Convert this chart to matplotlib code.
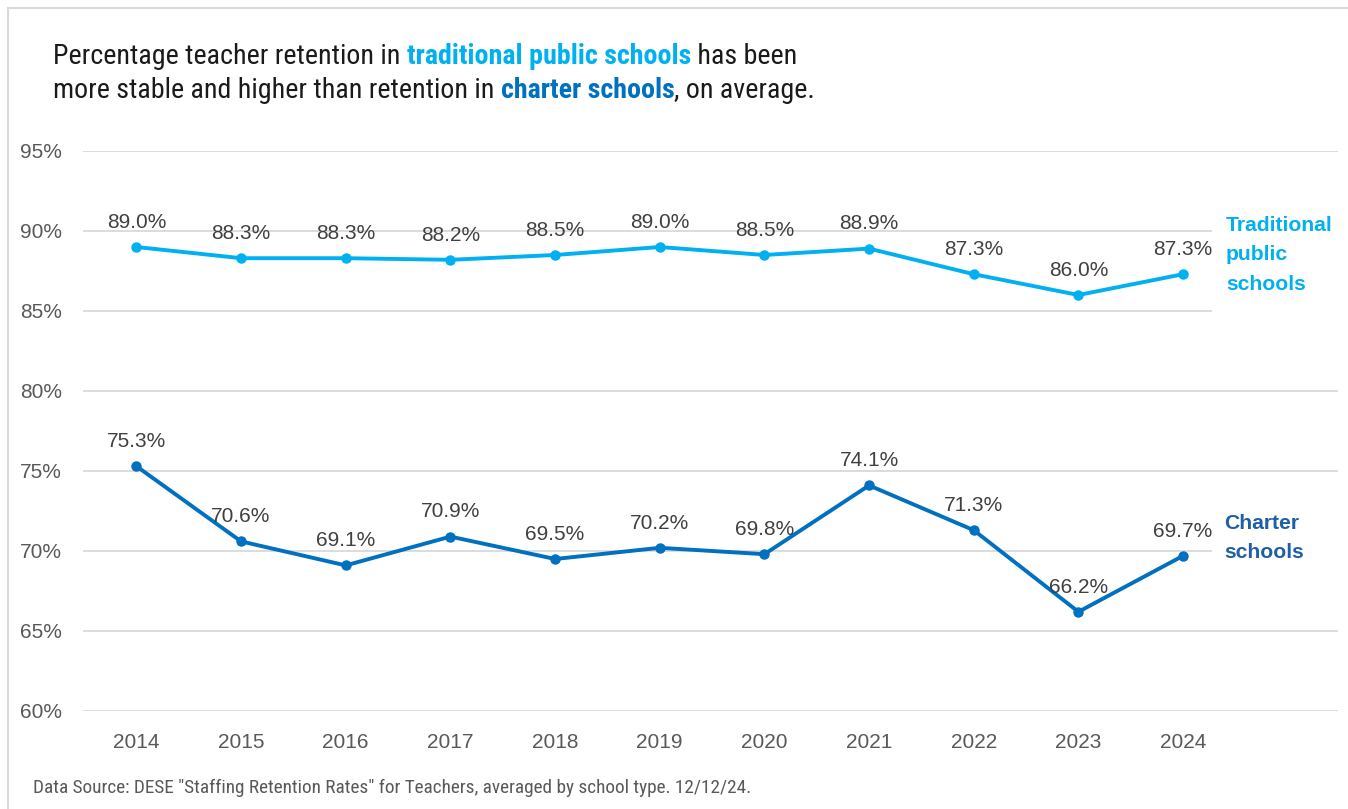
import matplotlib
matplotlib.use("Agg")
import matplotlib.pyplot as plt
from matplotlib.patches import Rectangle
from matplotlib.ticker import FuncFormatter

years = [2014, 2015, 2016, 2017, 2018, 2019, 2020, 2021, 2022, 2023, 2024]
traditional = [89.0, 88.3, 88.3, 88.2, 88.5, 89.0, 88.5, 88.9, 87.3, 86.0, 87.3]
charter = [75.3, 70.6, 69.1, 70.9, 69.5, 70.2, 69.8, 74.1, 71.3, 66.2, 69.7]
yticks = [60, 65, 70, 75, 80, 85, 90, 95]

C_TRAD = "#00B0F0"
C_CHART = "#0070C0"
C_CHART_LBL = "#1F5FA6"
NARROW = ["Roboto Condensed", "Liberation Sans Narrow", "Liberation Sans", "DejaVu Sans"]
SANS = ["Liberation Sans", "DejaVu Sans"]

W, H = 1348, 809
fig = plt.figure(figsize=(W / 100, H / 100), dpi=100)
fig.patch.set_facecolor("white")

# light frame
fig.patches.append(Rectangle((8 / W, -0.1), 1.2, 1 - 8 / H + 0.1, transform=fig.transFigure,
                             fill=False, edgecolor="#D9D9D9", linewidth=1.5))

ax = fig.add_axes([83 / W, 1 - 711 / H, (1338 - 83) / W, (711 - 151) / H])
ax.set_xlim(2013.49, 2025.48)
ax.set_ylim(60, 95)
ax.set_yticks(yticks)
ax.yaxis.set_major_formatter(FuncFormatter(lambda v, p: f"{v:.0f}%"))
ax.set_xticks(years)
ax.set_xticklabels([str(y) for y in years])
for s in ax.spines.values():
    s.set_visible(False)
ax.tick_params(axis="both", length=0, labelsize=15, labelcolor="#595959")
ax.tick_params(axis="x", pad=16)
ax.tick_params(axis="y", pad=15)
for lbl in ax.get_xticklabels() + ax.get_yticklabels():
    lbl.set_fontfamily(SANS)
ax.yaxis.grid(True, color="#D9D9D9", linewidth=1.3, zorder=0)
ax.set_axisbelow(True)

ax.plot(years, traditional, color=C_TRAD, lw=2.8, marker="o", ms=6.5, zorder=3, solid_capstyle="round")
ax.plot(years, charter, color=C_CHART, lw=2.8, marker="o", ms=6.5, zorder=3, solid_capstyle="round")

for series in (traditional, charter):
    for x, v in zip(years, series):
        ax.annotate(f"{v:.1f}%", (x, v), xytext=(0, 11), textcoords="offset points",
                    ha="center", va="bottom", fontsize=15, color="#404040", family=SANS, zorder=4)

# white masks behind end labels
ax.add_patch(Rectangle((2024.28, 83.5), 1.4, 8.0, facecolor="white", edgecolor="none", zorder=1))
ax.add_patch(Rectangle((2024.28, 68.5), 1.4, 5.0, facecolor="white", edgecolor="none", zorder=1))

ax.text(2024.41, traditional[-1] + 1.2, "Traditional\npublic\nschools", color=C_TRAD, fontsize=15.2,
        fontweight="bold", family=SANS, ha="left", va="center", linespacing=1.7, zorder=5)
ax.text(2024.39, charter[-1] + 1.1, "Charter\nschools", color=C_CHART_LBL, fontsize=15.2,
        fontweight="bold", family=SANS, ha="left", va="center", linespacing=1.7, zorder=5)

# title with mixed colours
renderer = fig.canvas.get_renderer()


def rich_line(x_px, y_px, parts):
    x = x_px
    for txt, color, weight in parts:
        t = fig.text(x / W, 1 - y_px / H, txt, color=color, fontweight=weight, fontsize=20.2,
                     family=NARROW, ha="left", va="baseline")
        bb = t.get_window_extent(renderer=renderer)
        x += bb.width


rich_line(53, 64, [("Percentage teacher retention in ", "#1A1A1A", "normal"),
                   ("traditional public schools", C_TRAD, "bold"),
                   (" has been", "#1A1A1A", "normal")])
rich_line(53, 98, [("more stable and higher than retention in ", "#1A1A1A", "normal"),
                   ("charter schools", C_CHART, "bold"),
                   (", on average.", "#1A1A1A", "normal")])

fig.text(33 / W, 1 - 793 / H, 'Data Source: DESE "Staffing Retention Rates" for Teachers, averaged by school type. 12/12/24.',
         fontsize=13.9, color="#595959", family=NARROW, ha="left", va="baseline")

fig.savefig("out.png", dpi=100)
